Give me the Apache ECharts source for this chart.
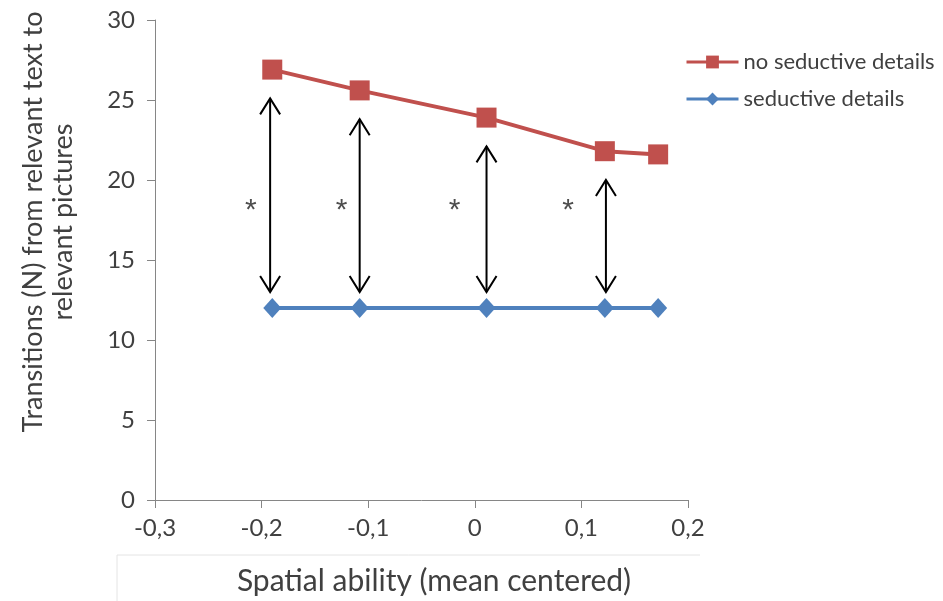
<!DOCTYPE html>
<html><head><meta charset="utf-8">
<script src="https://cdn.jsdelivr.net/npm/echarts@6/dist/echarts.min.js"></script>
<style>html,body{margin:0;padding:0;background:#fff}#c{width:943px;height:601px}</style>
</head><body><div id="c"></div>
<script>
// x positions (spatial ability, mean centered)
const xValues = [-0.19, -0.108, 0.011, 0.122, 0.172];
const noSeductive = [26.9, 25.6, 23.9, 21.8, 21.6];
const seductive = [12.0, 12.0, 12.0, 12.0, 12.0];
// double-headed arrows between conditions
const arrowX = [-0.192, -0.108, 0.011, 0.123];
const arrowTop = [25.1, 23.8, 22.1, 20.0];
const arrowBottom = [13.0, 13.0, 13.0, 13.0];
// significance markers
const starX = [-0.21, -0.125, -0.019, 0.0875];
const starY = [18.6, 18.6, 18.6, 18.6];
const seriesNames = ['no seductive details', 'seductive details'];
const xTitle = 'Spatial ability (mean centered)';
const yTitle = 'Transitions (N) from relevant text to\nrelevant pictures';

const font = 'Lato, "Open Sans", sans-serif';
const txt = '#404040';
const chart = echarts.init(document.getElementById('c'));

function fmt(v){ const r = Math.round(v*10)/10; return (r === 0 ? '0' : String(r)).replace('.', ','); }

const arrowData = arrowX.map((x,i)=>[x, arrowTop[i], arrowBottom[i]]);

chart.setOption({
  animation:false,
  grid:{left:155, right:255, top:20, bottom:101, containLabel:false},
  legend:{
    orient:'vertical', left:685, top:51, padding:0, itemGap:15, itemWidth:52, itemHeight:16,
    textStyle:{color:txt, fontSize:22, fontFamily:font},
    lineStyle:{width:3},
    data:seriesNames
  },
  xAxis:{
    type:'value', min:-0.3, max:0.2, interval:0.1,
    axisLine:{onZero:false, lineStyle:{color:'#868686', width:1}},
    axisTick:{show:true, length:8, lineStyle:{color:'#868686'}},
    axisLabel:{color:txt, fontSize:24, fontFamily:font, margin:16, formatter:fmt},
    splitLine:{show:false}
  },
  yAxis:{
    type:'value', min:0, max:30, interval:5,
    axisLine:{show:true, onZero:false, lineStyle:{color:'#868686', width:1}},
    axisTick:{show:true, length:8, lineStyle:{color:'#868686'}},
    axisLabel:{color:txt, fontSize:24, fontFamily:font, margin:20},
    splitLine:{show:false}
  },
  graphic:[
    {type:'line', shape:{x1:117, y1:555, x2:700, y2:555}, style:{stroke:'#e4e4e4', lineWidth:1}, silent:true},
    {type:'line', shape:{x1:117, y1:555, x2:117, y2:601}, style:{stroke:'#e4e4e4', lineWidth:1}, silent:true},
    {type:'text', x:434, y:581, silent:true,
      style:{text:xTitle, fill:txt, font:'30px ' + font, align:'center', verticalAlign:'middle'}},
    {type:'text', x:48, y:222, rotation:Math.PI/2, silent:true,
      style:{text:yTitle, fill:txt, font:'27px ' + font, lineHeight:30, align:'center', verticalAlign:'middle'}}
  ],
  series:[
    {
      name:'arrows', type:'custom', silent:true, z:1,
      data:arrowData,
      renderItem:function(params, api){
        const top = api.coord([api.value(0), api.value(1)]);
        const bot = api.coord([api.value(0), api.value(2)]);
        const hw = 10, hl = 16;
        const st = {stroke:'#000', lineWidth:2, fill:null};
        return {type:'group', children:[
          {type:'line', shape:{x1:top[0], y1:top[1], x2:bot[0], y2:bot[1]}, style:st},
          {type:'polyline', shape:{points:[[top[0]-hw, top[1]+hl],[top[0], top[1]],[top[0]+hw, top[1]+hl]]}, style:st},
          {type:'polyline', shape:{points:[[bot[0]-hw, bot[1]-hl],[bot[0], bot[1]],[bot[0]+hw, bot[1]-hl]]}, style:st}
        ]};
      }
    },
    {
      name:'stars', type:'scatter', silent:true, symbolSize:0,
      data:starX.map((x,i)=>[x, starY[i]]),
      label:{show:true, position:'inside', formatter:'*', color:'#222', fontSize:30,
        fontFamily:'"Liberation Sans", "DejaVu Sans", sans-serif', offset:[0,8]}
    },
    {
      name:seriesNames[0], type:'line', z:3,
      data:xValues.map((x,i)=>[x, noSeductive[i]]),
      symbol:'rect', symbolSize:20,
      lineStyle:{color:'#C0504D', width:4},
      itemStyle:{color:'#C0504D'}
    },
    {
      name:seriesNames[1], type:'line', z:3,
      data:xValues.map((x,i)=>[x, seductive[i]]),
      symbol:'diamond', symbolSize:[18,20],
      lineStyle:{color:'#4F81BD', width:4},
      itemStyle:{color:'#4F81BD'}
    }
  ]
});
</script></body></html>
